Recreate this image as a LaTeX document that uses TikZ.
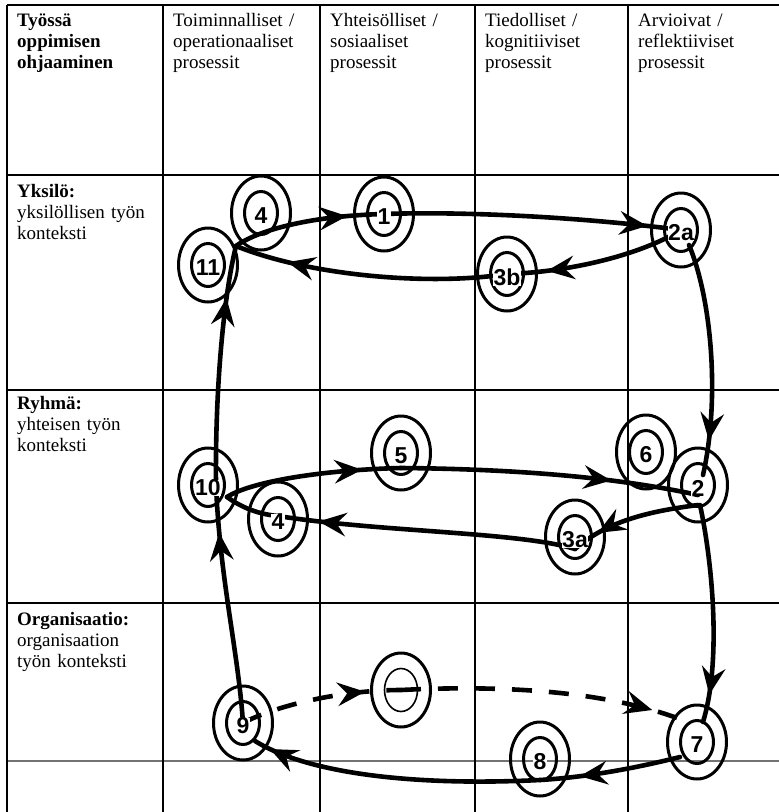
\documentclass[tikz,border=0pt]{standalone}
\usepackage{fontspec}
\setmainfont{Liberation Serif}
\newfontfamily\numfont{Liberation Sans}
\usetikzlibrary{shapes.geometric,arrows.meta,decorations.markings,backgrounds}

\tikzset{
  grid/.style={line width=1.6pt},
  faint/.style={line width=1.3pt, black!55},
  cell/.style={anchor=base west, align=left, inner sep=0pt, text width=150pt,
               font=\fontsize{19}{21}\selectfont},
  ring/.style={ellipse, draw, line width=3pt, minimum width=59pt, minimum height=74pt,
               inner sep=0pt,
               path picture={\draw[line width=#1] (path picture bounding box.center)
                 ellipse [x radius=16.5pt, y radius=21.5pt];}},
  ring/.default=3pt,
  lbl/.style={fill=white, inner sep=0.3pt, yshift=-3pt,
              font=\numfont\bfseries\fontsize{23}{23}\selectfont},
  flow/.style={line width=4.6pt, line cap=round},
  dashflow/.style={line width=4.6pt, dash pattern=on 20pt off 17pt},
  tipat/.style={postaction={decorate}, decoration={markings,
     mark=at position #1 with {\arrow{Stealth[length=28pt,width=24pt,inset=10pt,line width=0pt]}}}},
}

\begin{document}
\begin{tikzpicture}[x=1pt,y=-1pt]
\useasboundingbox (0,0) rectangle (779,812);

% process stations: outer and inner ring with the step number
\node[ring, label={[lbl]center:4}]  (n4a) at (261,213) {};
\node[ring, label={[lbl]center:1}]  (n1)  at (384,214) {};
\node[ring, label={[lbl]center:11}] (n11) at (208,265) {};
\node[ring, label={[lbl]center:2a}] (n2a) at (681,230) {};
\node[ring, label={[lbl]center:3b}] (n3b) at (507,274) {};
\node[ring, label={[lbl]center:10}] (n10) at (208,485) {};
\node[ring, label={[lbl]center:4}]  (n4b) at (278,519) {};
\node[ring, label={[lbl]center:5}]  (n5)  at (401,453) {};
\node[ring, label={[lbl]center:6}]  (n6)  at (646,452) {};
\node[ring, label={[lbl]center:2}]  (n2)  at (698,485) {};
\node[ring, label={[lbl]center:3a}] (n3a) at (575,537) {};
\node[ring, label={[lbl]center:9}]  (n9)  at (243,723) {};
\node[ring=1.6pt]                   (ne)  at (401,690) {};
\node[ring, label={[lbl]center:8}]  (n8)  at (540,759) {};
\node[ring, label={[lbl]center:7}]  (n7)  at (697,742) {};

\coordinate (J1) at (236,246);
\coordinate (J2) at (227,497);

% table text
\node[cell, font=\fontsize{19}{21}\selectfont\bfseries] (hd0) at (17,26) {Työssä\\oppimisen\\ohjaaminen};
\node[cell] (hd1) at (173,26) {Toiminnalliset /\\operationaaliset\\prosessit};
\node[cell] (hd2) at (330,26) {Yhteisölliset /\\sosiaaliset\\prosessit};
\node[cell] (hd3) at (485,26) {Tiedolliset /\\kognitiiviset\\prosessit};
\node[cell] (hd4) at (638,26) {Arvioivat /\\reflektiiviset\\prosessit};
\node[cell] (rw1) at (17,197) {\textbf{Yksilö:}\\yksilöllisen työn\\konteksti};
\node[cell] (rw2) at (17,409) {\textbf{Ryhmä:}\\yhteisen työn\\konteksti};
\node[cell] (rw3) at (17,625) {\textbf{Organisaatio:}\\organisaation\\työn konteksti};

\begin{pgfonlayer}{background}
% table rules
\draw[grid] (7,5) -- (779,5);
\foreach \y in {175,390,603} \draw[grid] (7,\y) -- (779,\y);
\draw[faint] (7,761) -- (779,761);
\foreach \x in {7,163,320,475,628} \draw[grid] (\x,5) -- (\x,812);

% individual level loop
\draw[flow, tipat=-37pt] (J1) .. controls (255,232) and (305,216) .. (n1.center);
\draw[flow, tipat=-34pt] (n1.center) .. controls (470,211) and (590,218) .. (n2a.center);
\draw[flow, tipat=-40pt] (n2a.center) .. controls (640,255) and (570,272) .. (n3b.center);
\draw[flow, tipat=-54pt] (n3b.center) .. controls (430,286) and (310,276) .. (J1);

% group level loop
\draw[flow, tipat=-39pt] (J2) .. controls (250,482) and (320,470) .. ([yshift=-15pt]n5.center);
\draw[flow, tipat=-88pt] ([yshift=-15pt]n5.center) .. controls (520,469) and (620,478) .. ([yshift=-10pt]n2.center);
\draw[flow, tipat=-28pt] ([yshift=-20pt]n2.center) .. controls (660,510) and (610,518) .. ([yshift=-12pt]n3a.center);
\draw[flow, tipat=-41pt] ([yshift=-12pt]n3a.center) .. controls (520,532) and (380,532) .. ([yshift=3pt]n4b.center);
\draw[flow] ([yshift=3pt]n4b.center) .. controls (255,514) and (238,505) .. (J2);

% links between the levels
\draw[flow, tipat=-48pt] (n9.center) .. controls (238,650) and (220,580) .. ([xshift=8pt]n10.center);
\draw[flow, tipat=-53pt] ([xshift=8pt]n10.center) .. controls (215,380) and (225,290) .. (J1);
\draw[flow, tipat=-35pt] ([xshift=8pt,yshift=-15pt]n2a.center) .. controls (712,300) and (720,400) .. ([xshift=5pt,yshift=10pt]n2.center);
\draw[flow, tipat=-28pt] ([xshift=2pt,yshift=-20pt]n2.center) .. controls (712,560) and (722,660) .. ([xshift=6pt,yshift=20pt]n7.center);

% organisation level loop
\draw[dashflow, tipat=-36pt] (n9.center) .. controls (275,706) and (340,690) .. (ne.center);
\draw[dashflow, tipat=-40pt] (ne.center) .. controls (500,685) and (610,690) .. ([xshift=-7pt,yshift=19pt]n7.center);
\draw[flow, tipat=-40pt] ([xshift=-17pt,yshift=-15pt]n7.center) .. controls (640,767) and (590,777) .. ([yshift=-21pt]n8.center);
\draw[flow, tipat=-17pt] ([yshift=-21pt]n8.center) .. controls (420,786) and (310,775) .. ([xshift=12pt,yshift=-18pt]n9.center);
\end{pgfonlayer}
\end{tikzpicture}
\end{document}
